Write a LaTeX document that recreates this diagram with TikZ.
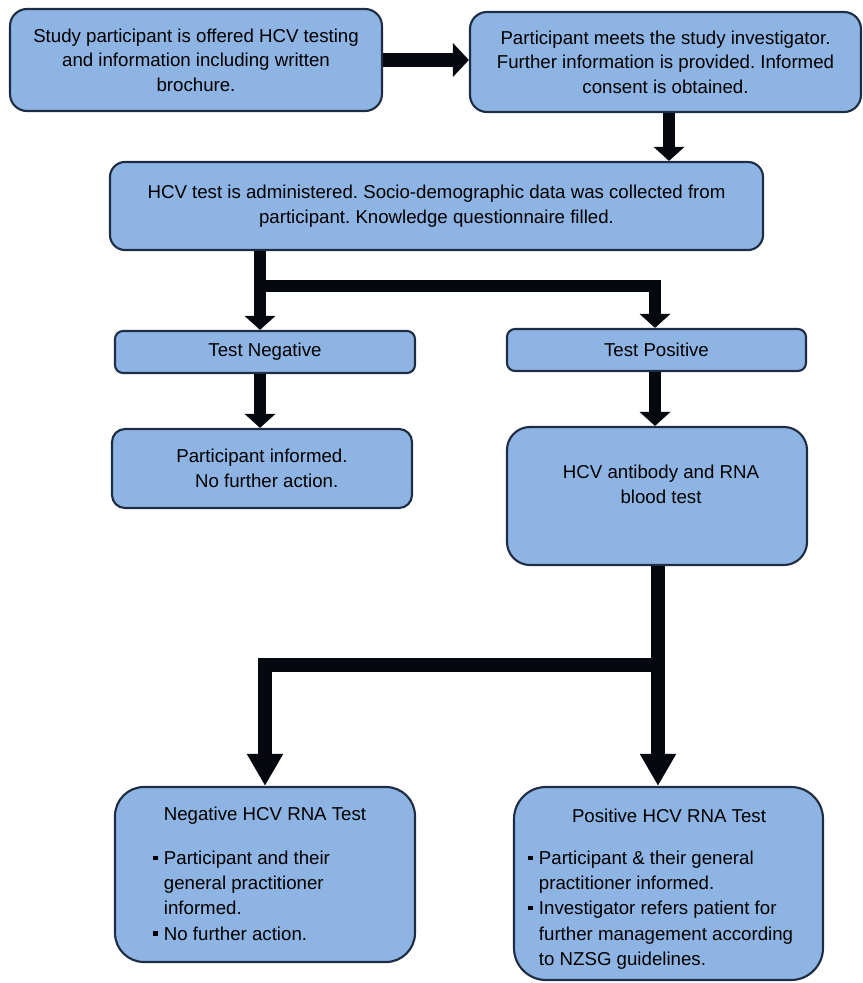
\documentclass[tikz,border=0pt]{standalone}
\usepackage{fontspec}
\setmainfont{Liberation Sans}
\usetikzlibrary{arrows.meta}
\definecolor{boxfill}{HTML}{8EB4E3}
\definecolor{boxline}{HTML}{1F2D44}
\definecolor{arrowcol}{HTML}{05080F}
\newcommand\sqbul{\makebox[8pt][l]{\raisebox{0.24em}{\rule{3.6pt}{3.6pt}}}}
\newcommand\bulind{\hspace*{8pt}}
\frenchspacing
\begin{document}
\begin{tikzpicture}[x=0.75pt,y=-0.75pt,
  box/.style={draw=boxline, fill=boxfill, line width=1.6pt, inner sep=0pt, align=center,
              font=\fontsize{14pt}{18.5pt}\selectfont},
  lbl/.style={inner sep=0pt, align=center, font=\fontsize{14pt}{18.5pt}\selectfont},
  lst/.style={inner sep=0pt, align=left, anchor=north west, font=\fontsize{14pt}{18.8pt}\selectfont},
  arrh/.style={draw=arrowcol, line width=10.5pt, -{Triangle[width=24.75pt,length=12pt]}},
  arr/.style={draw=arrowcol, line width=9pt, line join=miter, -{Triangle[width=22.5pt,length=10.5pt]}},
  arrbig/.style={draw=arrowcol, line width=10.5pt, line join=miter, -{Triangle[width=25.5pt,length=24pt]}}
]
\useasboundingbox (0,0) rectangle (863,983);

% boxes
\node[box, minimum width=279pt, minimum height=76.5pt, rounded corners=12.75pt] (b1) at (196,60)
  {Study participant is offered HCV testing\\and information including written\\brochure.};
\node[box, minimum width=293.25pt, minimum height=75pt, rounded corners=12.75pt] (b2) at (665.5,62)
  {Participant meets the study investigator.\\Further information is provided. Informed\\consent is obtained.};
\node[box, minimum width=489.75pt, minimum height=66pt, rounded corners=11.25pt] (b3) at (436.5,206)
  {HCV test is administered. Socio-demographic data was collected from\\participant. Knowledge questionnaire filled.};
\node[box, minimum width=225pt, minimum height=31.5pt, rounded corners=6pt] (tn) at (265,352) {Test Negative};
\node[box, minimum width=224.25pt, minimum height=31.5pt, rounded corners=6pt] (tp) at (656.5,350) {Test Positive};
\node[box, minimum width=225pt, minimum height=59.25pt, rounded corners=9.75pt] (pi) at (262,468.5)
  {Participant informed.\\\hspace*{7pt}No further action.};
\node[box, minimum width=225pt, minimum height=103.5pt, rounded corners=17.25pt] (hcv) at (657,496) {};
\node[lbl] (hcvtxt) at (661,484) {HCV antibody and RNA\\blood test};
\node[box, minimum width=225pt, minimum height=131.25pt, rounded corners=21.75pt] (neg) at (265,874.5) {};
\node[lbl] (negtitle) at (265,816) {Negative HCV RNA Test};
\node[lst] (neglist) at (153,851)
  {\sqbul Participant and their\\\bulind general practitioner\\\bulind informed.\\\sqbul No further action.};
\node[box, minimum width=231.75pt, minimum height=144.75pt, rounded corners=24pt] (pos) at (668.5,883.5) {};
\node[lbl] (postitle) at (669,816) {Positive HCV RNA Test};
\node[lst] (poslist) at (528,851)
  {\sqbul Participant \& their general\\\bulind practitioner informed.\\\sqbul Investigator refers patient for\\\bulind further management according\\\bulind to NZSG guidelines.};

% junction coordinates
\coordinate (j2) at (669,0);
\coordinate (bl) at (260,286);
\coordinate (br) at (655,286);
\coordinate (cl) at (265,665);
\coordinate (cr) at (658,665);

% connectors
\draw[arrh] (b1.east) -- (b1.east -| b2.west);
\draw[arr] (b2.south -| j2) -- (b3.north -| j2);
\draw[arr] (b3.south -| bl) -- (tn.north -| bl);
\draw[arr] (bl) -- (br) -- (tp.north -| br);
\draw[arr] (tn.south -| bl) -- (pi.north -| bl);
\draw[arr] (tp.south -| br) -- (hcv.north -| br);
\draw[arrbig] (hcv.south -| cr) -- (pos.north -| cr);
\draw[arrbig] (cr) -- (cl) -- (neg.north -| cl);
\end{tikzpicture}
\end{document}
